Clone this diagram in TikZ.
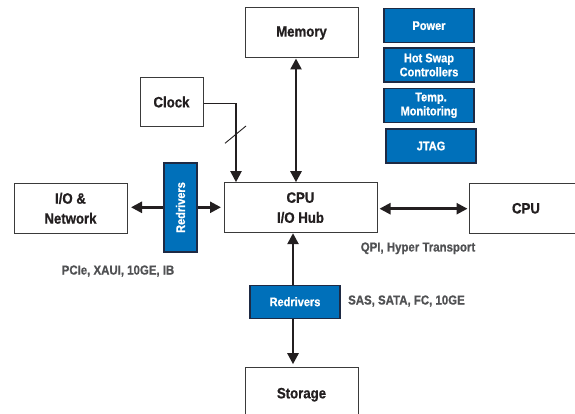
\documentclass[tikz,border=0pt]{standalone}
\usepackage{fontspec}
\setmainfont{Liberation Sans}[FakeStretch=0.88, BoldFeatures={FakeBold=0.8}]
\usetikzlibrary{arrows.meta}
\definecolor{boxblue}{HTML}{0070BA}
\definecolor{bluedge}{HTML}{1E2A44}
\definecolor{txtdark}{HTML}{231F20}
\definecolor{txtgray}{HTML}{505153}
\definecolor{edgegray}{HTML}{3A3A3A}
\tikzset{
  wbox/.style={draw=edgegray, line width=1pt, fill=white, inner sep=0pt, align=center,
    text=txtdark, font=\fontsize{15}{20}\selectfont\bfseries},
  bbox/.style={draw=bluedge, line width=1.3pt, fill=boxblue, inner sep=0pt, align=center,
    text=white, font=\fontsize{12.5}{14}\selectfont\bfseries, minimum width=90pt, minimum height=34pt},
  lbl/.style={text=txtgray, font=\fontsize{13}{15}\selectfont\bfseries, inner sep=0pt},
  conn/.style={draw=txtdark, line width=2.5pt, -{Triangle[length=11pt,width=11pt]}},
  bconn/.style={draw=txtdark, line width=2.5pt, {Triangle[length=11pt,width=11pt]}-{Triangle[length=11pt,width=11pt]}},
}
\begin{document}
\begin{tikzpicture}[x=1pt,y=-1pt]
\clip (0,0) rectangle (575,414);
\fill[white] (0,0) rectangle (575,414);
% white boxes
\node[wbox, minimum width=113pt, minimum height=50pt] (mem) at (301.5,33) {Memory};
\node[wbox, minimum width=63pt, minimum height=49pt] (clock) at (171.5,102) {Clock};
\node[wbox, minimum width=153pt, minimum height=50pt] (hub) at (300.5,207.7) {CPU\\I/O Hub};
\node[wbox, minimum width=113pt, minimum height=50pt] (io) at (70.5,208.3) {I/O \&\\Network};
\node[wbox, minimum width=114pt, minimum height=50pt] (cpu) at (526,208.3) {CPU};
\node[wbox, minimum width=113pt, minimum height=54pt] (stor) at (301.5,394.7) {Storage};
% blue boxes
\node[bbox] (pow) at (429,25.7) {Power};
\node[bbox] (hot) at (429,65) {Hot Swap\\Controllers};
\node[bbox] (temp) at (429,105.3) {\hspace*{4pt}Temp.\\Monitoring};
\node[bbox] (jtag) at (431,146) {JTAG};
\node[bbox, minimum width=90pt, minimum height=33pt] (rdb) at (295,301.7) {Redrivers};
\node[bbox, minimum width=33pt, minimum height=89pt] (rdv) at (180.5,207.5) {};
\node[text=white, font=\fontsize{12.5}{14}\selectfont\bfseries, rotate=90, inner sep=0pt] (rdvt) at (rdv.center) {Redrivers};
% labels
\node[lbl] (qpi) at (418,248.3) {QPI, Hyper Transport};
\node[lbl] (pcie) at (118,271) {PCIe, XAUI, 10GE, IB};
\node[lbl, anchor=west] (sas) at (348,301) {SAS, SATA, FC, 10GE};
% helper coordinates
\coordinate (mx) at (296,0);
\coordinate (cx) at (236,0);
\coordinate (bx) at (293,0);
\coordinate (cc) at (236,103.3);
\coordinate (ioe) at (131,207.3);
\coordinate (hubw) at (221,207.3);
% connectors
\draw[bconn] (mem.south -| mx) -- (hub.north -| mx);
\draw[draw=txtdark, line width=1pt] (clock.east |- cc) -- (cc);
\draw[conn, line width=2pt] (cc) -- (hub.north -| cx);
\draw[draw=txtdark, line width=0.9pt] (225,143.3) -- (246,126);
\draw[conn] (rdv.west |- ioe) -- (ioe);
\draw[conn] (rdv.east |- hubw) -- (hubw);
\draw[bconn, shorten <=2pt, shorten >=1pt] (hub.east |- 0,208.7) -- (cpu.west |- 0,208.7);
\draw[conn] (rdb.north -| bx) -- (hub.south -| bx);
\draw[conn, shorten >=3pt] (rdb.south -| bx) -- (stor.north -| bx);
\end{tikzpicture}
\end{document}
